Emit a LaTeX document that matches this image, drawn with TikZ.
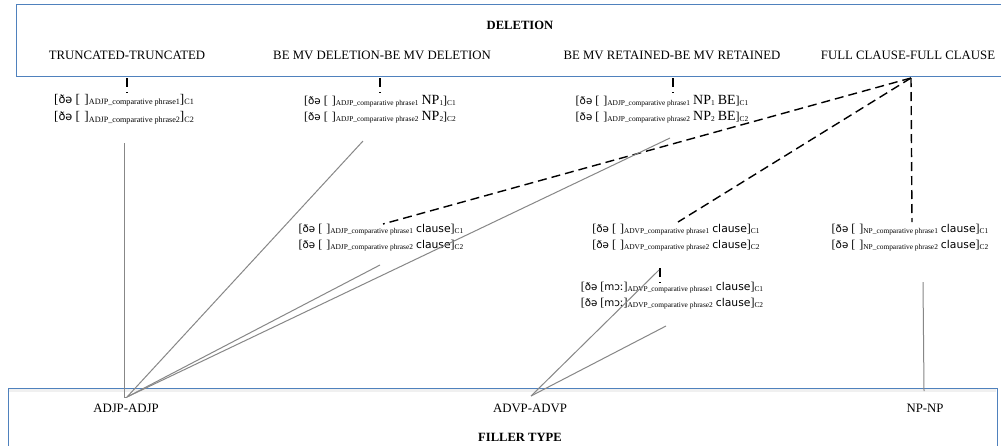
\documentclass[tikz,border=0pt]{standalone}
\usepackage{fontspec}
\setmainfont{Liberation Serif}
\newfontfamily\ipafont{DejaVu Sans}
\usetikzlibrary{calc}
\definecolor{boxblue}{RGB}{79,129,189}
\definecolor{linegray}{RGB}{135,135,135}
\newcommand{\lsub}[1]{\raisebox{-1.2pt}{\fontsize{7.4}{8}\selectfont #1}}
\newcommand{\ipatxt}[1]{{\ipafont\fontsize{10.3}{12}\selectfont #1}}
\newcommand{\bigtxt}[1]{{\fontsize{14}{16}\selectfont #1}}
\newcommand{\clausetxt}{{\ipafont\fontsize{10.8}{12}\selectfont clause}}
\newcommand{\nl}{\\\relax}
\begin{document}
\begin{tikzpicture}[x=1pt,y=-1pt,
  lbl/.style={inner sep=0pt, font=\fontsize{12.8}{14}\selectfont},
  ttl/.style={inner sep=0pt, font=\bfseries\fontsize{12.6}{14}\selectfont},
  blk/.style={inner sep=0pt, align=left, font=\fontsize{12}{16}\selectfont},
  dsh/.style={draw=black, dash pattern=on 9pt off 5pt, line width=1.4pt},
  gl/.style={draw=linegray, line width=1pt},
  frame/.style={draw=boxblue, line width=1pt}]
\useasboundingbox (0,0) rectangle (1001,445);
\clip (0,0) rectangle (1001,445);
\fill[white] (0,0) rectangle (1001,445);

% boxes
\draw[frame] (16,4) rectangle (1012,76);
\fill[black!12] (9,390) rectangle (996,394);
\draw[frame, fill=white] (8,388) rectangle (997,455);
\fill[black!6] (9,389) rectangle (996,392);

% titles and labels
\node[ttl] (del) at (520,25) {DELETION};
\node[lbl] (trunc) at (127,55) {TRUNCATED-TRUNCATED};
\node[lbl] (bedel) at (382,55) {BE MV DELETION-BE MV DELETION};
\node[lbl] (beret) at (672,55) {BE MV RETAINED-BE MV RETAINED};
\node[lbl] (full) at (908,55) {FULL CLAUSE-FULL CLAUSE};

\node[lbl] (adjp) at (126,408) {ADJP-ADJP};
\node[lbl] (advp) at (530,408) {ADVP-ADVP};
\node[lbl] (npnp) at (925,408) {NP-NP};
\node[ttl] (filler) at (520,437) {FILLER TYPE};

% blocks
\node[blk, scale=1.1] (b1) at (124,109) {[\ipatxt{ðə} [\,\,]\lsub{ADJP\_comparative phrase1}]\lsub{C1}\nl
[\ipatxt{ðə} [\,\,]\lsub{ADJP\_comparative phrase2}]\lsub{C2}};
\node[blk] (b2) at (380,109) {[\ipatxt{ðə} [\,\,]\lsub{ADJP\_comparative phrase1} \bigtxt{NP}\lsub{1}]\lsub{C1}\nl
[\ipatxt{ðə} [\,\,]\lsub{ADJP\_comparative phrase2} \bigtxt{NP}\lsub{2}]\lsub{C2}};
\node[blk] (b3) at (662,109) {[\ipatxt{ðə} [\,\,]\lsub{ADJP\_comparative phrase1} \bigtxt{NP}\lsub{1} \bigtxt{BE}]\lsub{C1}\nl
[\ipatxt{ðə} [\,\,]\lsub{ADJP\_comparative phrase2} \bigtxt{NP}\lsub{2} \bigtxt{BE}]\lsub{C2}};
\node[blk] (adjc) at (381,238) {[\ipatxt{ðə} [\,\,]\lsub{ADJP\_comparative phrase1} \clausetxt]\lsub{C1}\nl
[\ipatxt{ðə} [\,\,]\lsub{ADJP\_comparative phrase2} \clausetxt]\lsub{C2}};
\node[blk] (advc) at (676,238) {[\ipatxt{ðə} [\,\,]\lsub{ADVP\_comparative phrase1} \clausetxt]\lsub{C1}\nl
[\ipatxt{ðə} [\,\,]\lsub{ADVP\_comparative phrase2} \clausetxt]\lsub{C2}};
\node[blk] (npc) at (910,238) {[\ipatxt{ðə} [\,\,]\lsub{NP\_comparative phrase1} \clausetxt]\lsub{C1}\nl
[\ipatxt{ðə} [\,\,]\lsub{NP\_comparative phrase2} \clausetxt]\lsub{C2}};
\node[blk] (mo) at (672,296) {[\ipatxt{ðə} [\ipatxt{mɔː}]\lsub{ADVP\_comparative phrase1} \clausetxt]\lsub{C1}\nl
[\ipatxt{ðə} [\ipatxt{mɔː}]\lsub{ADVP\_comparative phrase2} \clausetxt]\lsub{C2}};

% connector end points
\coordinate (truncB) at (127,78);  \coordinate (b1T) at (127,93);
\coordinate (bedelB) at (380,78);  \coordinate (b2T) at (380,93);
\coordinate (beretB) at (673,78);  \coordinate (b3T) at (673,93);
\coordinate (fullB) at (911,78);
\coordinate (adjcT) at (383,224);
\coordinate (advcT) at (678,222);
\coordinate (npcT) at (912,222);
\coordinate (advcB) at (660,268); \coordinate (moT) at (660,283);

\coordinate (b1B) at (124,143);
\coordinate (b2B) at (363,141);
\coordinate (b3B) at (670,138);
\coordinate (adjcB) at (380,265);
\coordinate (adjpT) at (127,397);
\coordinate (advcG) at (659,270);
\coordinate (moB) at (666,326);
\coordinate (advpT) at (531,396);
\coordinate (npcB) at (923,282);
\coordinate (npnpT) at (924,391);

% dashed connectors
\draw[dsh] (truncB) -- (b1T);
\draw[dsh] (bedelB) -- (b2T);
\draw[dsh] (beretB) -- (b3T);
\draw[dsh] (fullB) -- (adjcT);
\draw[dsh] (fullB) -- (advcT);
\draw[dsh] (fullB) -- (npcT);
\draw[dsh] (advcB) -- (moT);

% solid gray connectors
\draw[gl] (b1B) -- (124,397) -- (adjpT);
\draw[gl] (b2B) -- (adjpT);
\draw[gl] (adjcB) -- (adjpT);
\draw[gl] (b3B) -- (adjpT);
\draw[gl] (advcG) -- (advpT);
\draw[gl] (moB) -- (advpT);
\draw[gl] (npcB) -- (npnpT);
\end{tikzpicture}
\end{document}
